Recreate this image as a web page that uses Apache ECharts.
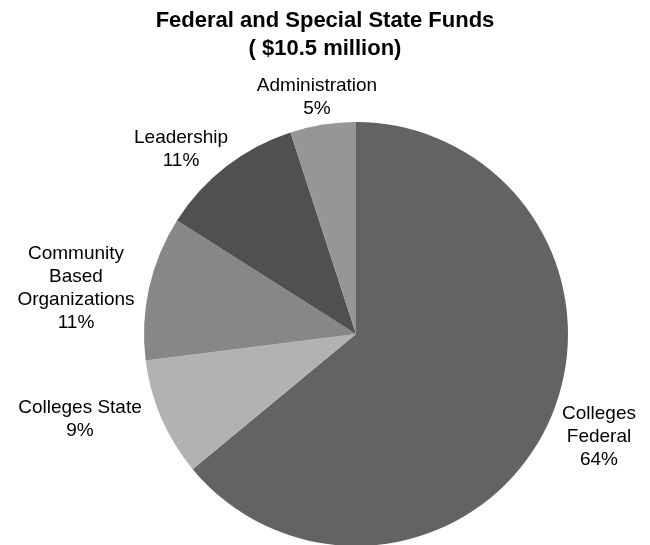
<!DOCTYPE html>
<html>
<head>
<meta charset="utf-8">
<script src="https://cdn.jsdelivr.net/npm/echarts@6/dist/echarts.min.js"></script>
<style>
  html, body { margin: 0; padding: 0; background: #ffffff; }
  #chart { width: 650px; height: 545px; }
</style>
</head>
<body>
<div id="chart"></div>
<script>
// Funding shares, listed clockwise from 12 o'clock
const categories = ['Colleges\nFederal', 'Colleges State', 'Community\nBased\nOrganizations', 'Leadership', 'Administration'];
const shares = [64, 9, 11, 11, 5];
const sliceColors = ['#636363', '#b2b2b2', '#878787', '#505050', '#969696'];

// Where each slice's caption block is centred
const labelCenters = [[599, 437], [80, 419], [76, 288], [181, 149], [317, 97]];

const chart = echarts.init(document.getElementById('chart'));

chart.setOption({
  backgroundColor: '#ffffff',
  animation: false,
  title: {
    text: 'Federal and Special State Funds\n( $10.5 million)',
    left: 'center',
    top: 2,
    textStyle: {
      fontFamily: 'Liberation Sans, Arial, sans-serif',
      fontSize: 22,
      fontWeight: 'bold',
      color: '#000000',
      lineHeight: 28
    }
  },
  series: [{
    type: 'pie',
    center: [356, 334],
    radius: 212,
    startAngle: 90,
    clockwise: true,
    avoidLabelOverlap: false,
    itemStyle: { borderWidth: 0 },
    label: {
      show: true,
      position: 'outside',
      formatter: p => p.name + '\n' + p.value + '%',
      fontFamily: 'Liberation Sans, Arial, sans-serif',
      fontSize: 19,
      lineHeight: 23,
      color: '#000000',
      align: 'center'
    },
    labelLine: { show: false },
    labelLayout: function (params) {
      const c = labelCenters[params.dataIndex];
      return { x: c[0], y: c[1], align: 'center', verticalAlign: 'middle' };
    },
    emphasis: { disabled: true },
    data: categories.map((name, i) => ({
      name: name,
      value: shares[i],
      itemStyle: { color: sliceColors[i] }
    }))
  }]
});
</script>
</body>
</html>
